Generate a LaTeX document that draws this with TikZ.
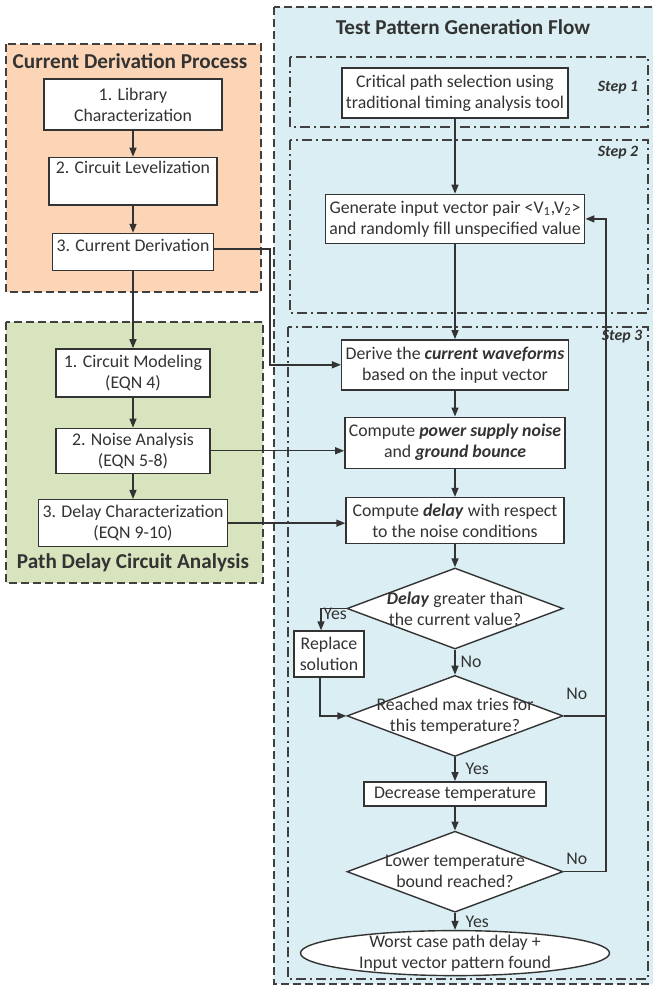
\documentclass[tikz,border=0pt]{standalone}
\usepackage{fontspec}
\setmainfont{Carlito}
\usetikzlibrary{arrows.meta, positioning, shapes.geometric, calc}
\definecolor{derivfill}{HTML}{FBD5B5}
\definecolor{pathfill}{HTML}{D7E4BD}
\definecolor{flowfill}{HTML}{DAEEF3}

\begin{document}
\begin{tikzpicture}[
      x=0.5pt, y=-0.5pt,
      node distance=12pt,
      every node/.style={font=\fontsize{8.9}{10.5}\selectfont, text=black!80},
      box/.style={rectangle, draw=black!80, line width=0.7pt, fill=white,
                  align=center, inner sep=2pt},
      decision/.style={diamond, draw=black!80, line width=0.7pt, fill=white,
                  inner sep=0pt, minimum width=108pt, minimum height=40.5pt},
      terminal/.style={ellipse, draw=black!80, line width=0.7pt, fill=white,
                  inner sep=0pt, minimum width=154.5pt, minimum height=22.5pt},
      group/.style={draw=black!75, line width=0.8pt, dash pattern=on 4pt off 2pt},
      stepframe/.style={draw=black!75, line width=0.6pt,
                  dash pattern=on 5pt off 2pt on 1pt off 2pt},
      title/.style={font=\fontsize{10.6}{12.5}\selectfont\bfseries},
      steplabel/.style={font=\fontsize{7.9}{9}\selectfont\bfseries\itshape},
      lbl/.style={inner sep=1pt},
      line/.style={line width=0.7pt, draw=black!80},
      arrow/.style={line, -{Triangle[length=4.5pt, width=3.5pt]}}
    ]
        \useasboundingbox (0,0) rectangle (653,986);
        % groups
        \draw[group, fill=derivfill] (6,44) rectangle (261,292);
        \draw[group, fill=pathfill] (6,322) rectangle (263,583);
        \draw[group, fill=flowfill] (274,7) rectangle (662,984);
        \draw[stepframe] (290,57) rectangle (648,127);
        \draw[stepframe] (290,140) rectangle (648,313);
        \draw[stepframe] (288,327) rectangle (648,979);
        \node[title] (derivtitle) at (130,61) {Current Derivation Process};
        \node[title] (pathtitle) at (133,563) {Path Delay Circuit Analysis};
        \node[title] (flowtitle) at (463,27) {Test Pattern Generation Flow};
        \node[steplabel] (stepone) at (618,88) {Step 1};
        \node[steplabel] (steptwo) at (618,153) {Step 2};
        \node[steplabel] (stepthree) at (622,337) {Step 3};
        % left column
        \node[box, minimum width=89pt, minimum height=25.5pt] (libchar) at (133,104.5) {1. Library\\Characterization};
        \node[box, minimum width=84pt, minimum height=23.5pt, below=13pt of libchar] (level) {2. Circuit Levelization\\\strut};
        \node[box, minimum width=80.5pt, text height=7pt, text depth=7.5pt, below=13.5pt of level] (curder) {3. Current Derivation};
        \node[box, minimum width=77pt, minimum height=24pt, below=38.5pt of curder] (cktmod) {1. Circuit Modeling\\(EQN 4)};
        \node[box, minimum width=77pt, minimum height=22.5pt, below=15pt of cktmod] (noise) {2. Noise Analysis\\(EQN 5-8)};
        \node[box, minimum width=93.5pt, minimum height=23.5pt, below=12.5pt of noise] (delchar) {3. Delay Characterization\\(EQN 9-10)};
        % right column
        \node[box, minimum width=111.5pt, minimum height=25pt] (critpath) at (455,93) {Critical path selection using\\traditional timing analysis tool};
        \node[box, minimum width=129.5pt, minimum height=24.5pt, below=37.5pt of critpath] (genvec) {Generate input vector pair <V\textsubscript{1},V\textsubscript{2}>\\and randomly fill unspecified value};
        \node[box, minimum width=112.5pt, minimum height=25pt, below=47.5pt of genvec] (derive) {Derive the \textbf{\textit{current waveforms}}\\based on the input vector};
        \node[box, minimum width=109pt, minimum height=25.5pt, below=13pt of derive] (supply) {Compute \textbf{\textit{power supply noise}}\\and \textbf{\textit{ground bounce}}};
        \node[box, minimum width=109pt, minimum height=23pt, below=14pt of supply] (delay) {Compute \textbf{\textit{delay}} with respect\\to the noise conditions};
        \node[decision, below=11.5pt of delay, label={[align=center]center:{\textbf{\textit{Delay}} greater than\\the current value?}}] (greater) {};
        \node[decision, below=12.5pt of greater, label={[align=center]center:{Reached max tries for\\this temperature?}}] (maxtries) {};
        \node[box, minimum width=91pt, minimum height=12pt, inner sep=0pt, below=12pt of maxtries] (decrease) {Decrease temperature};
        \node[decision, below=12pt of decrease, label={[align=center]center:{Lower temperature\\bound reached?}}] (bound) {};
        \node[terminal, below=8.5pt of bound, label={[align=center]center:{Worst case path delay +\\Input vector pattern found}}] (found) {};
        \node[box, minimum width=35pt, minimum height=23pt] (replace) at (329,654) {Replace\\solution};
        \coordinate (jog) at (270,0);
        \coordinate (loopback) at (606,0);
        % connectors
        \draw[arrow] (libchar) -- (level);
        \draw[arrow] (level) -- (curder);
        \draw[arrow] (curder) -- (cktmod);
        \draw[arrow] (cktmod) -- (noise);
        \draw[arrow] (noise) -- (delchar);
        \draw[arrow] ([yshift=1.5pt]curder.east) -| (jog |- derive.west) -- (derive.west);
        \draw[arrow] (noise.east) -- (noise.east -| supply.west);
        \draw[arrow] (delchar.east) -- (delchar.east -| delay.west);
        \draw[arrow] (critpath) -- (genvec);
        \draw[arrow] (genvec) -- (derive);
        \draw[arrow] (derive) -- (supply);
        \draw[arrow] (supply) -- (delay);
        \draw[arrow] (delay) -- (greater);
        \draw[arrow] (greater) -- node[lbl, right=1.5pt]{No} (maxtries);
        \draw[arrow] (greater.west) -| node[lbl, pos=0.62, right]{Yes} ([xshift=-4pt]replace.north);
        \draw[arrow] ([xshift=-4.5pt]replace.south) |- (maxtries.west);
        \draw[arrow] (maxtries) -- node[lbl, right=4pt]{Yes} (decrease);
        \draw[arrow] (decrease) -- (bound);
        \draw[arrow] (bound) -- node[lbl, right=4pt]{Yes} (found);
        \draw[arrow] (bound.east) -- node[lbl, pos=0, anchor=south west, yshift=2pt]{No} (bound.east -| loopback) |- (genvec.east);
        \draw[line] (maxtries.east) -- node[lbl, pos=0, anchor=south west, yshift=7pt]{No} (maxtries.east -| loopback);
    \end{tikzpicture}
\end{document}
